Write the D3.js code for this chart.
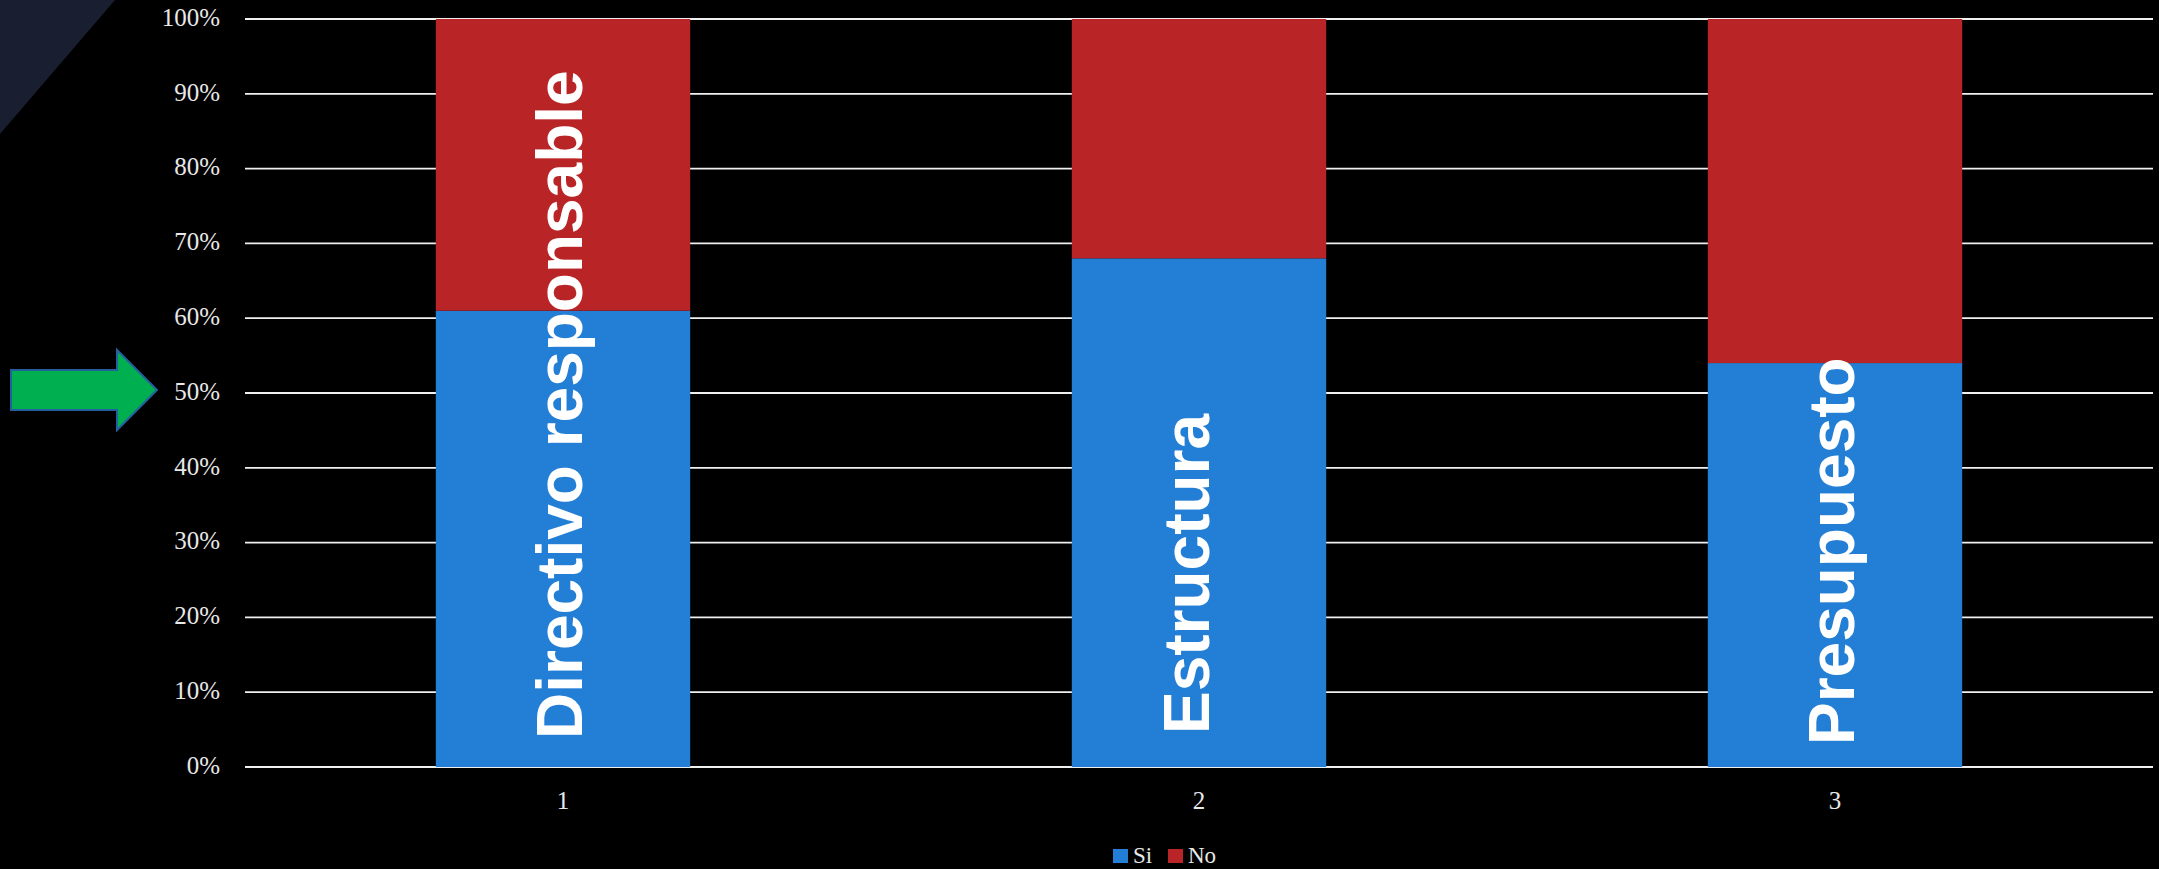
<!DOCTYPE html>
<html>
<head>
<meta charset="utf-8">
<script src="https://cdn.jsdelivr.net/npm/d3@7"></script>
<style>
  html, body { margin: 0; padding: 0; background: #000; }
  svg { display: block; }
</style>
</head>
<body>
<svg id="chart" width="2159" height="869"></svg>
<script>
// ---- data ----
const categories = ["1", "2", "3"];
const barLabels = ["Directivo responsable", "Estructura", "Presupuesto"];
const siValues = [0.61, 0.68, 0.54];
const noValues = [0.39, 0.32, 0.46];
const seriesNames = ["Si", "No"];
const seriesColors = ["#237fd5", "#b92526"];
const yTicks = [0, 0.1, 0.2, 0.3, 0.4, 0.5, 0.6, 0.7, 0.8, 0.9, 1.0];

// ---- layout ----
const W = 2159, H = 869;
const margin = { top: 19, right: 6, bottom: 102, left: 245 };
// small manual nudges of the in-bar labels (dx from bar centre, dy from baseline)
const labelNudge = [{ dx: 19, dy: -28 }, { dx: 10, dy: -33 }, { dx: 19, dy: -22 }];

const svg = d3.select("#chart");
svg.append("rect").attr("width", W).attr("height", H).attr("fill", "#000");

// decorative corner triangle
svg.append("path")
  .attr("d", "M0,0 L115,0 L0,134 Z")
  .attr("fill", "#1a1e31");

const x = d3.scaleBand()
  .domain(categories)
  .range([margin.left, W - margin.right])
  .paddingInner(0.6)
  .paddingOuter(0.3);

const y = d3.scaleLinear()
  .domain([0, 1])
  .range([H - margin.bottom, margin.top]);

const serif = "'Liberation Serif', 'DejaVu Serif', serif";
const textColor = "#e8e8e8";

// gridlines
svg.append("g")
  .selectAll("line")
  .data(yTicks)
  .join("line")
  .attr("x1", margin.left)
  .attr("x2", W - margin.right)
  .attr("y1", d => y(d))
  .attr("y2", d => y(d))
  .attr("stroke", "#f0f0f0")
  .attr("stroke-width", 1.8);

// y axis labels
const yAxis = d3.axisLeft(y).tickValues(yTicks).tickFormat(d3.format(".0%")).tickSize(0).tickPadding(25);
const yg = svg.append("g").attr("transform", `translate(${margin.left},0)`).call(yAxis);
yg.select(".domain").remove();
yg.selectAll("text")
  .attr("fill", textColor)
  .attr("font-family", serif)
  .attr("font-size", 25)
  .attr("dy", "0.25em");

// stacked bars
const rows = categories.map((c, i) => ({ cat: c, Si: siValues[i], No: noValues[i] }));
const stack = d3.stack().keys(seriesNames)(rows);
const color = d3.scaleOrdinal().domain(seriesNames).range(seriesColors);

svg.append("g")
  .selectAll("g")
  .data(stack)
  .join("g")
  .attr("fill", d => color(d.key))
  .selectAll("rect")
  .data(d => d)
  .join("rect")
  .attr("x", d => x(d.data.cat))
  .attr("width", x.bandwidth())
  .attr("y", d => y(d[1]))
  .attr("height", d => y(d[0]) - y(d[1]));

// x axis labels
const xAxis = d3.axisBottom(x).tickSize(0).tickPadding(24);
const xg = svg.append("g").attr("transform", `translate(0,${H - margin.bottom})`).call(xAxis);
xg.select(".domain").remove();
xg.selectAll("text")
  .attr("fill", textColor)
  .attr("font-family", serif)
  .attr("font-size", 25);

// rotated labels inside bars
svg.append("g")
  .selectAll("text")
  .data(categories)
  .join("text")
  .attr("transform", (d, i) => `translate(${x(d) + x.bandwidth() / 2 + labelNudge[i].dx},${y(0) + labelNudge[i].dy}) rotate(-90)`)
  .attr("text-anchor", "start")
  .attr("fill", "#ffffff")
  .attr("font-family", "'Liberation Sans', Arial, sans-serif")
  .attr("font-weight", "bold")
  .attr("font-size", 64)
  .text((d, i) => barLabels[i]);

// green arrow pointing to 50%
const ay = y(0.5) - 3;
svg.append("path")
  .attr("d", `M11,${ay - 20} L117,${ay - 20} L117,${ay - 40} L157,${ay} L117,${ay + 40} L117,${ay + 20} L11,${ay + 20} Z`)
  .attr("fill", "#00b050")
  .attr("stroke", "#245f9e")
  .attr("stroke-width", 2);

// legend
const legend = svg.append("g").attr("transform", `translate(1113,849)`);
const legendOffsets = [0, 55];
seriesNames.forEach((s, i) => {
  const g = legend.append("g").attr("transform", `translate(${legendOffsets[i]},0)`);
  g.append("rect").attr("width", 15).attr("height", 14).attr("fill", seriesColors[i]);
  g.append("text")
    .attr("x", 20)
    .attr("y", 14)
    .attr("fill", textColor)
    .attr("font-family", serif)
    .attr("font-size", 23)
    .text(s);
});
</script>
</body>
</html>
